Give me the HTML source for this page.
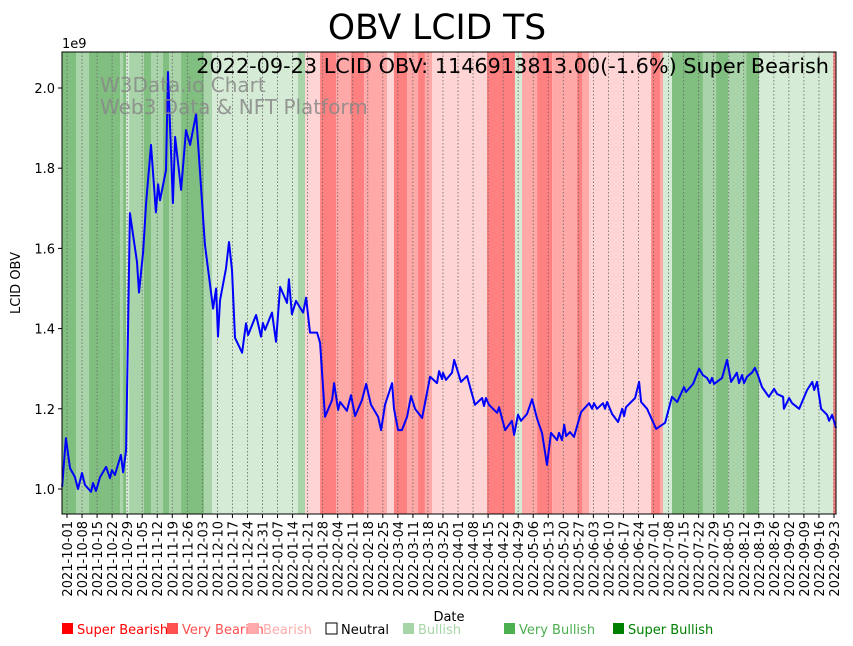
<!DOCTYPE html>
<html><head><meta charset="utf-8"><style>
body{margin:0;background:#fff;}
svg{display:block;font-family:"DejaVu Sans","Liberation Sans",sans-serif;}
</style></head><body>
<svg id="chart" width="853" height="646" xmlns="http://www.w3.org/2000/svg">
<text x="437" y="39" font-size="34.5" text-anchor="middle">OBV LCID TS</text>
<g id="bands"></g><g id="grid"></g><g id="series"></g><g id="axes"></g>
<text x="100" y="92" font-size="20" fill="#888" fill-opacity="0.85">W3Data.io Chart</text>
<text x="100" y="114" font-size="20" fill="#888" fill-opacity="0.85">Web3 Data &amp; NFT Platform</text>
<text x="829" y="73" font-size="20.8" text-anchor="end">2022-09-23 LCID OBV: 1146913813.00(-1.6%) Super Bearish</text>
<text x="62" y="48" font-size="13">1e9</text>
<text transform="translate(20,283) rotate(-90)" font-size="13" text-anchor="middle">LCID OBV</text>
<text x="449" y="621" font-size="13" text-anchor="middle">Date</text>
<g id="legend" font-size="13"></g>
</svg>
<script>
const bandStarts=[-2.3,4.2,10.2,24.7,26.1,27.5,28.9,35.8,39.1,44.7,47.5,53.1,63.8,67.5,107.5,110.8,117.8,125.2,132.2,138.3,149.0,152.2,158.3,163.4,166.6,169.9,195.5,208.5,211.8,218.8,225.8,237.4,239.7,243.0,271.9,276.0,277.4,281.6,296.0,302.1,307.7,316.1,322.1,356.6];
const bandEnd=358.3;
const bandCats=['vb','b','vb','b','vb','lb','b','vb','b','vb','b','vb','b','lb','b','lr','vr','r','vr','r','lr','vr','r','vr','r','lr','vr','lb','r','vr','r','vr','r','lr','vr','r','lb','vb','b','vb','b','vb','lb','vr'];
const obvDays=[-2.3,-0.5,1.4,3.7,5.1,7.0,8.4,11.2,12.1,13.5,15.4,18.2,20.0,20.9,22.3,25.1,26.1,27.5,29.3,32.6,33.5,35.4,36.8,39.1,41.4,42.4,43.3,46.1,47.0,49.3,50.3,53.1,55.4,57.3,60.1,64.2,68.0,69.4,70.3,71.2,74.0,75.4,76.8,78.2,81.5,83.3,84.3,88.0,90.3,91.2,92.2,95.4,97.3,99.2,102.4,103.3,104.7,106.6,109.9,111.3,113.1,116.4,117.8,120.1,123.4,124.3,126.2,127.1,130.3,132.2,134.1,137.3,139.2,141.5,144.8,146.2,148.0,151.3,152.2,154.1,155.9,158.3,160.1,162.0,165.3,169.0,172.2,173.2,174.6,175.0,176.4,179.2,180.2,183.4,186.2,189.9,193.2,194.1,195.0,196.4,200.2,201.1,203.9,207.1,208.1,209.9,211.3,214.1,216.5,218.8,221.1,223.4,225.3,228.1,229.0,230.4,231.4,232.3,234.1,236.0,239.3,243.0,244.4,245.3,246.7,249.5,250.4,251.4,253.7,256.5,258.4,259.3,260.2,264.4,266.3,267.2,270.0,274.2,278.4,281.6,284.0,287.2,288.1,291.4,294.2,296.0,297.9,299.3,300.2,301.2,304.9,307.2,309.1,311.8,312.8,314.2,315.1,316.5,318.8,320.2,321.6,323.5,326.7,329.1,330.5,333.3,333.7,336.1,337.5,340.8,344.5,346.9,347.8,349.1,351.0,353.8,354.7,356.1,358.0];
const obvValues=[1.005,1.127,1.052,1.03,1.0,1.04,1.01,0.993,1.015,0.995,1.03,1.055,1.027,1.047,1.035,1.085,1.042,1.097,1.688,1.566,1.49,1.59,1.713,1.858,1.69,1.76,1.72,1.795,2.04,1.713,1.878,1.746,1.895,1.858,1.935,1.61,1.45,1.5,1.38,1.47,1.55,1.616,1.546,1.377,1.34,1.413,1.384,1.434,1.38,1.414,1.397,1.44,1.367,1.504,1.464,1.523,1.436,1.469,1.44,1.477,1.39,1.39,1.364,1.18,1.222,1.264,1.197,1.217,1.195,1.234,1.182,1.222,1.262,1.21,1.18,1.147,1.21,1.264,1.2,1.147,1.147,1.18,1.232,1.2,1.177,1.28,1.264,1.294,1.274,1.29,1.272,1.29,1.322,1.267,1.282,1.21,1.227,1.207,1.227,1.21,1.19,1.204,1.147,1.17,1.135,1.185,1.17,1.187,1.224,1.175,1.14,1.06,1.14,1.122,1.14,1.122,1.16,1.132,1.142,1.13,1.192,1.214,1.2,1.214,1.2,1.214,1.2,1.217,1.187,1.167,1.2,1.182,1.204,1.227,1.267,1.217,1.2,1.15,1.165,1.23,1.217,1.254,1.242,1.262,1.3,1.284,1.277,1.264,1.277,1.262,1.277,1.322,1.267,1.29,1.264,1.284,1.264,1.28,1.29,1.302,1.284,1.254,1.23,1.25,1.237,1.23,1.2,1.227,1.214,1.2,1.247,1.267,1.247,1.267,1.2,1.185,1.17,1.185,1.152];
const yTicks=[1.0,1.2,1.4,1.6,1.8,2.0];
const legendLabels=['Super Bearish','Very Bearish','Bearish','Neutral','Bullish','Very Bullish','Super Bullish'];
const legendColors=['#ff0000','#ff5050','#ffaaaa','#000000','#a8d5a8','#4caf50','#008000'];

const NS='http://www.w3.org/2000/svg';
const PL=62,PR=836,PT=52,PB=514;
const x=d=>67+d*(834-67)/357;
const y=v=>489-(v-1)*401;
const bandColor={vb:'#80bf80',b:'#a9d4a9',lb:'#d5ebd5',vr:'#ff8080',r:'#ffa8a8',lr:'#ffd4d4'};
function mk(tag,attrs,parent){const e=document.createElementNS(NS,tag);for(const k in attrs)e.setAttribute(k,attrs[k]);parent.appendChild(e);return e;}
const bands=document.getElementById('bands');
for(let i=0;i<bandStarts.length;i++){
  const s=bandStarts[i],e=i+1<bandStarts.length?bandStarts[i+1]:bandEnd;
  const r=mk('rect',{x:Math.max(PL,x(s)),y:PT,width:Math.min(PR,x(e))-Math.max(PL,x(s)),height:PB-PT,fill:bandColor[bandCats[i]]},bands);
  
  
}
const grid=document.getElementById('grid'),axes=document.getElementById('axes');
const start=Date.UTC(2021,9,1);
for(let k=0;k<=51;k++){
  const d=k*7,xx=x(d);
  const gl=mk('line',{x1:xx,x2:xx,y1:PT,y2:PB,stroke:'#666','stroke-width':0.8,'stroke-dasharray':'1.5,2'},grid);
  
  
  mk('line',{x1:xx,x2:xx,y1:PB,y2:PB+4,stroke:'#000'},axes);
  const dt=new Date(start+d*864e5).toISOString().slice(0,10);
  const t=mk('text',{transform:`translate(${xx+5},${PB+7}) rotate(-90)`,'font-size':13,'text-anchor':'end'},axes);
  t.textContent=dt;
  
  
}
yTicks.forEach(v=>{
  mk('line',{x1:PL-4,x2:PL,y1:y(v),y2:y(v),stroke:'#000'},axes);
  const t=mk('text',{x:PL-7,y:y(v)+5,'font-size':13,'text-anchor':'end'},axes);
  t.textContent=v.toFixed(1);
  
  
});
mk('path',{d:`M${PL},${PT}V${PB}H${PR}V${PT}Z`,fill:'none',stroke:'#000','stroke-width':1},axes);
const pts=obvDays.map((d,i)=>x(d).toFixed(1)+','+y(obvValues[i]).toFixed(1)).join(' ');
const line=mk('polyline',{points:pts,fill:'none',stroke:'#0000ff','stroke-width':2,'stroke-linejoin':'round'},document.getElementById('series'));


const lg=document.getElementById('legend');
const lx=[61,166,247,325,402,503,612];
legendLabels.forEach((l,i)=>{
  const isN=i===3;
  const r=mk('rect',{x:lx[i]+1,y:623,width:11,height:11,fill:isN?'#fff':legendColors[i],stroke:isN?'#000':'none'},lg);
  
  
  const t=mk('text',{x:lx[i]+16,y:634,fill:legendColors[i]},lg);
  t.textContent=l;
  
  
});
</script>
</body></html>
